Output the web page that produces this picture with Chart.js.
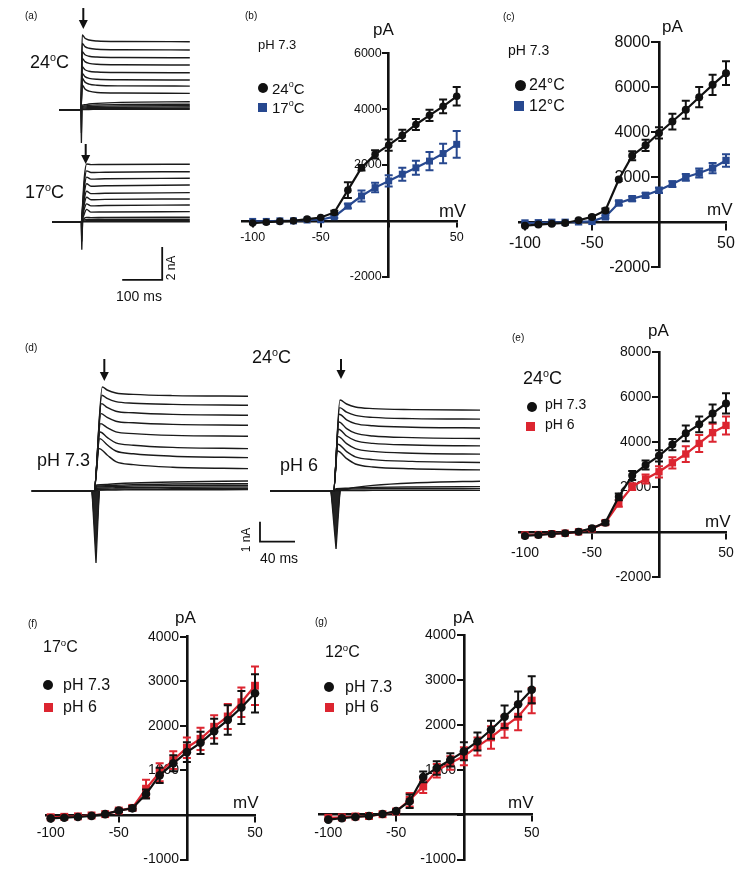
<!DOCTYPE html>
<html><head><meta charset="utf-8">
<script src="https://cdn.jsdelivr.net/npm/chart.js@4.4.1/dist/chart.umd.min.js"></script>
<style>
html,body{margin:0;padding:0;background:#fff;}
#fig{position:relative;width:740px;height:869px;overflow:hidden;font-family:"Liberation Sans",Arial,sans-serif;color:#111;}
canvas{position:absolute;}
.t{position:absolute;line-height:1;white-space:nowrap;transform:translateY(-50%);}
.t sup{font-size:0.6em;position:relative;top:-0.1em;vertical-align:top;line-height:1;}
.mk{position:absolute;}
</style></head><body><div id="fig"></div>
<script>
// ---------------- DATA ----------------
const mV = [-100,-90,-80,-70,-60,-50,-40,-30,-20,-10,0,10,20,30,40,50];
const ivXTicks = [-100,-50,0,50];
const yTicks8000 = [-2000,0,2000,4000,6000,8000];
const yTicks6000 = [-2000,0,2000,4000,6000];
const yTicks4000 = [-1000,0,1000,2000,3000,4000];

// (b) pH 7.3, 24 vs 17 degC (pA)
const b_24C     = [-80,-50,-20,0,60,120,300,1100,1900,2380,2710,3060,3450,3780,4100,4460];
const b_24C_err = [0,0,0,0,0,0,60,280,100,150,200,200,200,200,250,330];
const b_17C     = [-20,-20,0,0,30,40,150,530,890,1190,1430,1670,1900,2140,2410,2740];
const b_17C_err = [0,0,0,0,0,0,50,80,200,170,200,230,250,330,350,480];
// (c) pH 7.3, 24 vs 12 degC
const c_24C     = [-150,-100,-60,-30,90,240,530,1900,2960,3420,3970,4480,5000,5560,6110,6630];
const c_24C_err = [0,0,0,0,0,50,80,0,200,250,250,350,400,450,450,530];
const c_12C     = [-30,-20,0,0,20,40,240,860,1050,1200,1420,1700,2000,2190,2410,2750];
const c_12C_err = [0,0,0,0,0,0,60,100,100,100,120,130,150,200,230,280];
// (e) 24 degC, pH 7.3 vs pH 6
const e_pH73     = [-160,-120,-70,-40,30,180,430,1580,2520,2990,3400,3900,4400,4800,5280,5730];
const e_pH73_err = [0,0,0,0,0,50,80,150,200,200,250,250,350,350,400,450];
const e_pH6      = [-120,-100,-60,-40,20,160,430,1290,2030,2370,2690,3090,3480,3950,4430,4750];
const e_pH6_err  = [0,0,0,0,0,50,80,150,150,200,250,250,350,380,400,400];
// (f) 17 degC
const f_pH73     = [-75,-60,-45,-20,20,100,150,470,890,1160,1410,1620,1880,2130,2410,2730];
const f_pH73_err = [0,0,0,0,0,30,50,100,170,180,220,250,280,330,370,430];
const f_pH6      = [-50,-40,-30,-10,20,100,160,590,960,1230,1510,1710,1980,2210,2530,2900];
const f_pH6_err  = [0,0,0,0,0,30,50,200,200,200,230,250,260,280,330,430];
// (g) 12 degC
const g_pH73     = [-110,-80,-50,-30,15,80,300,840,1040,1220,1410,1630,1890,2180,2460,2780];
const g_pH73_err = [0,0,0,0,0,30,150,120,150,150,200,200,200,250,280,300];
const g_pH6      = [-70,-60,-40,-30,10,70,330,630,980,1150,1300,1520,1720,1960,2180,2540];
const g_pH6_err  = [0,0,0,0,0,30,150,150,150,150,200,200,250,250,300,280];

// (a) current traces (time ms, current nA)
const a24_t = [-55, 0, 3, 10, 20, 40, 100, 272];
const a24_I = [
 [0,0,4.55,4.35,4.24,4.18,4.15,4.14],
 [0,0,4.04,3.84,3.74,3.68,3.65,3.64],
 [0,0,3.53,3.35,3.26,3.21,3.18,3.17],
 [0,0,3.13,2.93,2.83,2.77,2.74,2.73],
 [0,0,2.62,2.44,2.35,2.30,2.27,2.26],
 [0,0,2.22,2.02,1.92,1.86,1.83,1.82],
 [0,0,1.92,1.69,1.57,1.50,1.46,1.45],
 [0,0,1.52,1.27,1.14,1.06,1.03,1.01],
 [0,0,0.30,0.32,0.36,0.40,0.46,0.50],
 [0,0,0.22,0.25,0.28,0.31,0.33,0.35],
 [0,0,0.18,0.19,0.21,0.23,0.25,0.26],
 [0,0,0.12,0.13,0.14,0.16,0.17,0.18],
 [0,0,0.07,0.07,0.08,0.09,0.10,0.10],
 [0,0,0.03,0.03,0.03,0.04,0.04,0.04]
];
const a24_spike_t = [-0.5, 1, 2.5];
const a24_spike = [[0,-2.0,0],[0,-1.4,0]];

const a17_t = [-72, 1, 4, 8, 14, 25, 60, 272];
const a17_I = [
 [0,0,1.04,2.61,3.50,3.46,3.47,3.48],
 [0,0,0.91,2.27,3.08,2.98,3.00,3.03],
 [0,0,0.79,1.97,2.70,2.58,2.60,2.63],
 [0,0,0.67,1.67,2.30,2.15,2.18,2.22],
 [0,0,0.53,1.32,1.85,1.70,1.72,1.76],
 [0,0,0.41,1.04,1.48,1.33,1.35,1.38],
 [0,0,0.30,0.76,1.08,0.96,0.98,1.01],
 [0,0,0.18,0.46,0.75,0.58,0.59,0.61],
 [0,0,0.08,0.20,0.26,0.25,0.26,0.27],
 [0,0,0.05,0.11,0.14,0.14,0.15,0.15],
 [0,0,0.02,0.04,0.06,0.06,0.06,0.06],
 [0,0,0,0,0,0,0,0]
];
const a17_spike_t = [0.5, 2, 4];
const a17_spike = [[0,-1.7,0],[0,-1.2,0]];

// (d) traces, 24 degC
const d73_t = [-71, 0, 9.5, 15, 25, 45, 90, 176];
const d73_peakT = [9.5,9,8.5,8,7.5,7,6.5,6,3,3,3,3,3,3];
const d73_I = [
 [0,0,5.20,5.05,4.90,4.83,4.77,4.74],
 [0,0,4.79,4.63,4.47,4.39,4.33,4.29],
 [0,0,4.37,4.18,3.99,3.91,3.83,3.79],
 [0,0,3.87,3.68,3.49,3.41,3.33,3.29],
 [0,0,3.37,3.17,2.96,2.87,2.78,2.74],
 [0,0,2.95,2.68,2.41,2.29,2.18,2.12],
 [0,0,2.62,2.31,2.00,1.86,1.74,1.67],
 [0,0,2.12,1.80,1.47,1.32,1.19,1.12],
 [0,0,0.30,0.33,0.36,0.40,0.45,0.50],
 [0,0,0.25,0.27,0.29,0.32,0.35,0.37],
 [0,0,0.20,0.21,0.23,0.25,0.27,0.29],
 [0,0,0.14,0.15,0.16,0.17,0.19,0.20],
 [0,0,0.08,0.09,0.10,0.10,0.11,0.12],
 [0,0,0.04,0.05,0.05,0.06,0.06,0.07]
];
const d73_spike_t = [-2.3, 2.3, 6];
const d73_spike = [[0,-3.6,0],[0,-2.6,0],[0,-1.6,0]];

const d6_t = [-72.6, 0, 7.4, 15, 25, 45, 90, 176];
const d6_peakT = [7.4,7,6.6,6.2,5.8,5.4,5,4.6,3,3,3,3];
const d6_I = [
 [0,0,4.55,4.35,4.20,4.12,4.07,4.04],
 [0,0,4.17,3.94,3.78,3.68,3.62,3.59],
 [0,0,3.84,3.56,3.37,3.26,3.19,3.15],
 [0,0,3.45,3.12,2.89,2.75,2.67,2.62],
 [0,0,3.09,2.75,2.52,2.38,2.30,2.25],
 [0,0,2.72,2.37,2.12,1.98,1.89,1.84],
 [0,0,2.34,1.97,1.71,1.57,1.48,1.42],
 [0,0,2.00,1.62,1.35,1.20,1.11,1.05],
 [0,0,0.05,0.10,0.18,0.28,0.40,0.50],
 [0,0,0.12,0.14,0.16,0.18,0.20,0.22],
 [0,0,0.08,0.09,0.10,0.11,0.11,0.12],
 [0,0,0.02,0.02,0.02,0.03,0.03,0.03]
];
const d6_spike_t = [-2.9, 2.9, 7.4];
const d6_spike = [[0,-2.9,0],[0,-2.1,0],[0,-1.3,0]];

// scale bars (lengths)
const scaleA = {ms:100, nA:2};
const scaleD = {ms:40, nA:1};

// ---------------- STYLE / LAYOUT ----------------
const BLACK = '#111111', BLUE = '#27488f', RED = '#dc2530';
const FONT = '"Liberation Sans", Arial, sans-serif';
Chart.defaults.font.family = FONT;
Chart.defaults.color = '#111';
const fig = document.getElementById('fig');

function addCanvas(L) {
  const c = document.createElement('canvas');
  c.width = L.w; c.height = L.h;
  c.style.left = L.left + 'px'; c.style.top = L.top + 'px';
  c.style.width = L.w + 'px'; c.style.height = L.h + 'px';
  fig.appendChild(c);
  return c;
}
function txt(html, x, y, size, mode) {
  const d = document.createElement('div');
  d.className = 't'; d.innerHTML = html;
  d.style.left = x + 'px'; d.style.top = y + 'px'; d.style.fontSize = size + 'px';
  if (mode === 'c') d.style.transform = 'translate(-50%,-50%)';
  if (mode === 'r') d.style.transform = 'translate(-50%,-50%) rotate(-90deg)';
  fig.appendChild(d);
}
function mk(x, y, shape, s, color) {
  const d = document.createElement('div');
  d.className = 'mk';
  d.style.left = (x - s/2) + 'px'; d.style.top = (y - s/2) + 'px';
  d.style.width = s + 'px'; d.style.height = s + 'px';
  d.style.background = color;
  if (shape === 'circle') d.style.borderRadius = '50%';
  fig.appendChild(d);
}

const errorBarPlugin = {
  id: 'errorBars',
  afterDatasetDraw(chart, args) {
    const ds = chart.data.datasets[args.index];
    if (!ds.errorBars) return;
    const ctx = chart.ctx, ys = chart.scales.y;
    ctx.save();
    ctx.strokeStyle = ds.borderColor; ctx.lineWidth = 2;
    args.meta.data.forEach((pt, i) => {
      const e = ds.errorBars[i];
      if (!e) return;
      const v = ds.data[i].y;
      const y1 = ys.getPixelForValue(v + e), y2 = ys.getPixelForValue(v - e);
      const x = pt.x, w = ds.capHalf;
      ctx.beginPath();
      ctx.moveTo(x, y1); ctx.lineTo(x, y2);
      ctx.moveTo(x - w, y1); ctx.lineTo(x + w, y1);
      ctx.moveTo(x - w, y2); ctx.lineTo(x + w, y2);
      ctx.stroke();
    });
    ctx.restore();
  }
};

function ivChart(L, series) {
  const cv = addCanvas(L);
  const datasets = series.map(s => ({
    data: mV.map((x, i) => ({x, y: s.values[i]})),
    errorBars: s.err, capHalf: L.cap,
    showLine: true, borderColor: s.color, backgroundColor: s.color,
    borderWidth: 2.2, pointStyle: s.shape, pointRadius: s.shape === 'rect' ? L.r * 1.3 : L.r,
    pointBorderWidth: 0, clip: false
  }));
  const yPad = '  ';
  new Chart(cv, {
    type: 'scatter',
    data: {datasets},
    options: {
      responsive: false, animation: false, devicePixelRatio: 1,
      layout: {padding: L.pad},
      plugins: {legend: {display: false}, tooltip: {enabled: false}},
      scales: {
        x: {
          type: 'linear', min: L.xMin, max: 50, position: {y: 0},
          afterBuildTicks: sc => { sc.ticks = ivXTicks.map(v => ({value: v})); },
          afterFit: sc => { sc.height = 0; },
          border: {display: true, color: BLACK, width: 2.6},
          grid: {display: true, drawOnChartArea: false, drawTicks: true, tickLength: L.tl, color: BLACK, lineWidth: 2},
          ticks: {font: {size: L.fs}, color: BLACK, padding: L.xPad, maxRotation: 0, autoSkip: false,
                  callback: v => v === 0 ? '' : String(v)}
        },
        y: {
          type: 'linear', min: L.yMin, max: L.yMax, position: {x: 0},
          afterBuildTicks: sc => { sc.ticks = L.yTicks.map(v => ({value: v})); },
          afterFit: sc => { sc.width = 0; },
          border: {display: true, color: BLACK, width: 2.6},
          grid: {display: true, drawOnChartArea: false, drawTicks: true, tickLength: L.tl, color: BLACK, lineWidth: 2},
          ticks: {font: {size: L.fs}, color: BLACK, padding: 1, autoSkip: false,
                  callback: v => v === 0 ? '' : String(v) + yPad}
        }
      }
    },
    plugins: [errorBarPlugin]
  });
}

function rngX(p0, p1, zero, ppu) { return {min: (p0 - zero) / ppu, max: (p1 - zero) / ppu}; }
function rngY(pTop, pBot, zero, ppu) { return {min: (zero - pBot) / ppu, max: (zero - pTop) / ppu}; }

function traceDs(times, vals, xID, yID) {
  return {data: times.map((t, i) => ({x: t, y: vals[i]})), xAxisID: xID, yAxisID: yID,
    showLine: true, pointRadius: 0, borderColor: '#1b1b1b', borderWidth: 1.4,
    cubicInterpolationMode: 'monotone', clip: false};
}
function spikeDs(times, vals, xID, yID) {
  return {data: times.map((t, i) => ({x: t, y: vals[i]})), xAxisID: xID, yAxisID: yID,
    showLine: true, pointRadius: 0, borderColor: '#1b1b1b', borderWidth: 1.3, tension: 0,
    fill: 'origin', backgroundColor: '#222', clip: false};
}
function barDs(pts, xID, yID) {
  return {data: pts, xAxisID: xID, yAxisID: yID, showLine: true, pointRadius: 0,
    borderColor: '#111', borderWidth: 1.8, tension: 0, clip: false};
}
function arrowPlugin(items) {
  return {
    id: 'arrows',
    afterDatasetsDraw(chart) {
      const ctx = chart.ctx;
      ctx.save(); ctx.strokeStyle = '#111'; ctx.fillStyle = '#111'; ctx.lineWidth = 2;
      items.forEach(a => {
        const x = chart.scales[a.x].getPixelForValue(a.t);
        const y0 = chart.scales[a.y].getPixelForValue(a.from);
        const y1 = chart.scales[a.y].getPixelForValue(a.to);
        ctx.beginPath(); ctx.moveTo(x, y0); ctx.lineTo(x, y1 - 7); ctx.stroke();
        ctx.beginPath(); ctx.moveTo(x - 4.5, y1 - 9); ctx.lineTo(x + 4.5, y1 - 9); ctx.lineTo(x, y1); ctx.closePath(); ctx.fill();
      });
      ctx.restore();
    }
  };
}
function traceChart(L, datasets, scales, arrows) {
  const cv = addCanvas(L);
  const sc = {};
  Object.keys(scales).forEach(k => { sc[k] = Object.assign({type: 'linear', display: false}, scales[k]); });
  new Chart(cv, {
    type: 'scatter',
    data: {datasets},
    options: {responsive: false, animation: false, devicePixelRatio: 1,
      layout: {padding: L.pad},
      plugins: {legend: {display: false}, tooltip: {enabled: false}},
      scales: sc},
    plugins: [arrowPlugin(arrows)]
  });
}

// ---------- panel (a) traces ----------
{
  const L = {left: 0, top: 0, w: 230, h: 310, pad: {left: 40, right: 30, top: 0, bottom: 0}};
  const ds = [];
  a24_I.forEach(v => ds.push(traceDs(a24_t, v, 'x', 'y')));
  a24_spike.forEach(v => ds.push(spikeDs(a24_spike_t, v, 'x', 'y')));
  a17_I.forEach(v => ds.push(traceDs(a17_t, v, 'x', 'y2')));
  a17_spike.forEach(v => ds.push(spikeDs(a17_spike_t, v, 'x', 'y2')));
  const cA = {t: 203, i: -3.53};
  ds.push(barDs([{x: cA.t - scaleA.ms, y: cA.i}, {x: cA.t, y: cA.i}, {x: cA.t, y: cA.i + scaleA.nA}], 'x', 'y2'));
  traceChart(L, ds, {
    x: rngX(40, 200, 81, 0.4),
    y: rngY(0, 310, 110, 16.5),
    y2: rngY(0, 310, 221.7, 16.5)
  }, [{x: 'x', y: 'y', t: 5.75, from: 6.18, to: 4.91}, {x: 'x', y: 'y2', t: 11.75, from: 4.71, to: 3.5}]);
}
// ---------- panel (d) traces ----------
{
  const L = {left: 0, top: 330, w: 480, h: 270, pad: {left: 10, right: 10, top: 0, bottom: 0}};
  const ds = [];
  d73_I.forEach((v, k) => ds.push(traceDs(d73_t.map((t, i) => i === 2 ? d73_peakT[k] : t), v, 'x', 'y')));
  d73_spike.forEach(v => ds.push(spikeDs(d73_spike_t, v, 'x', 'y')));
  d6_I.forEach((v, k) => ds.push(traceDs(d6_t.map((t, i) => i === 2 ? d6_peakT[k] : t), v, 'x2', 'y')));
  d6_spike.forEach(v => ds.push(spikeDs(d6_spike_t, v, 'x2', 'y')));
  const cD = {t: 189.7, i: -2.535};
  ds.push(barDs([{x: cD.t, y: cD.i + scaleD.nA}, {x: cD.t, y: cD.i}, {x: cD.t + scaleD.ms, y: cD.i}], 'x', 'y'));
  traceChart(L, ds, {
    x: rngX(10, 470, 94, 0.875),
    x2: rngX(10, 470, 333.5, 0.875),
    y: rngY(330, 600, 491, 20)
  }, [{x: 'x', y: 'y', t: 11.8, from: 6.6, to: 5.5}, {x: 'x2', y: 'y', t: 8.6, from: 6.6, to: 5.6}]);
}

// ---------- IV panels ----------
ivChart({left: 230, top: 0, w: 260, h: 310, pad: {left: 11.8, right: 33.3, top: 53.3, bottom: 33.3},
  xMin: -108, yMin: -2000, yMax: 6000, yTicks: yTicks6000, fs: 12.5, tl: 5, xPad: 4, r: 3.8, cap: 4}, [
  {values: b_24C, err: b_24C_err, color: BLACK, shape: 'circle'},
  {values: b_17C, err: b_17C_err, color: BLUE, shape: 'rect'}]);
ivChart({left: 480, top: 0, w: 260, h: 310, pad: {left: 39.6, right: 14, top: 42.3, bottom: 42.7},
  xMin: -104, yMin: -2000, yMax: 8000, yTicks: yTicks8000, fs: 16, tl: 7, xPad: 5, r: 4, cap: 4}, [
  {values: c_24C, err: c_24C_err, color: BLACK, shape: 'circle'},
  {values: c_12C, err: c_12C_err, color: BLUE, shape: 'rect'}]);
ivChart({left: 480, top: 320, w: 260, h: 280, pad: {left: 39.6, right: 14, top: 32.3, bottom: 22.7},
  xMin: -104, yMin: -2000, yMax: 8000, yTicks: yTicks8000, fs: 14, tl: 6, xPad: 6, r: 4, cap: 4}, [
  {values: e_pH73, err: e_pH73_err, color: BLACK, shape: 'circle'},
  {values: e_pH6, err: e_pH6_err, color: RED, shape: 'rect'}]);
ivChart({left: 0, top: 600, w: 290, h: 269, pad: {left: 46.6, right: 35, top: 36.7, bottom: 8},
  xMin: -103, yMin: -1000, yMax: 4000, yTicks: yTicks4000, fs: 14, tl: 6, xPad: 4, r: 4.3, cap: 4}, [
  {values: f_pH73, err: f_pH73_err, color: BLACK, shape: 'circle'},
  {values: f_pH6, err: f_pH6_err, color: RED, shape: 'rect'}]);
ivChart({left: 290, top: 600, w: 290, h: 269, pad: {left: 28.8, right: 48.3, top: 35, bottom: 9},
  xMin: -107, yMin: -1000, yMax: 4000, yTicks: yTicks4000, fs: 14, tl: 6, xPad: 4, r: 4.3, cap: 4}, [
  {values: g_pH73, err: g_pH73_err, color: BLACK, shape: 'circle'},
  {values: g_pH6, err: g_pH6_err, color: RED, shape: 'rect'}]);

// ---------- text & legends ----------
// (a)
txt('(a)', 25, 16, 10);
txt('24<sup>o</sup>C', 30, 62, 18);
txt('17<sup>o</sup>C', 25, 192, 18);
txt('2 nA', 171, 268, 12, 'r');
txt('100 ms', 139, 296, 14, 'c');
// (b)
txt('(b)', 245, 16, 10);
txt('pH 7.3', 258, 44, 13);
mk(263.3, 88.3, 'circle', 10, BLACK); txt('24<sup>o</sup>C', 272, 88, 15);
mk(262.7, 107.7, 'rect', 9, BLUE); txt('17<sup>o</sup>C', 272, 107, 15);
txt('pA', 373, 29, 17);
txt('mV', 439, 211, 18);
// (c)
txt('(c)', 503, 17, 10);
txt('pA', 662, 26, 17);
txt('pH 7.3', 508, 50, 14);
mk(520, 85, 'circle', 11, BLACK); txt('24°C', 529, 85, 16);
mk(519.3, 106, 'rect', 10, BLUE); txt('12°C', 529, 106, 16);
txt('mV', 707, 209, 17);
// (d)
txt('(d)', 25, 348, 10);
txt('24<sup>o</sup>C', 252, 357, 18);
txt('pH 7.3', 37, 460, 18);
txt('pH 6', 280, 465, 18);
txt('1 nA', 246, 540, 12, 'r');
txt('40 ms', 279, 558, 14, 'c');
// (e)
txt('(e)', 512, 338, 10);
txt('pA', 648, 330, 17);
txt('24<sup>o</sup>C', 523, 378, 18);
mk(531.7, 406.7, 'circle', 10, BLACK); txt('pH 7.3', 545, 404, 14);
mk(530, 426, 'rect', 9, RED); txt('pH 6', 545, 424, 14);
txt('mV', 705, 521, 17);
// (f)
txt('(f)', 28, 624, 10);
txt('pA', 175, 617, 17);
txt('17<sup>o</sup>C', 43, 647, 16);
mk(48.3, 685, 'circle', 10, BLACK); txt('pH 7.3', 63, 685, 16);
mk(48.3, 707.3, 'rect', 9, RED); txt('pH 6', 63, 707, 16);
txt('mV', 233, 802, 17);
// (g)
txt('(g)', 315, 622, 10);
txt('pA', 453, 617, 17);
txt('12<sup>o</sup>C', 325, 652, 16);
mk(329.3, 686.7, 'circle', 10, BLACK); txt('pH 7.3', 345, 687, 16);
mk(329.3, 707.3, 'rect', 9, RED); txt('pH 6', 345, 707, 16);
txt('mV', 508, 802, 17);
</script></body></html>
